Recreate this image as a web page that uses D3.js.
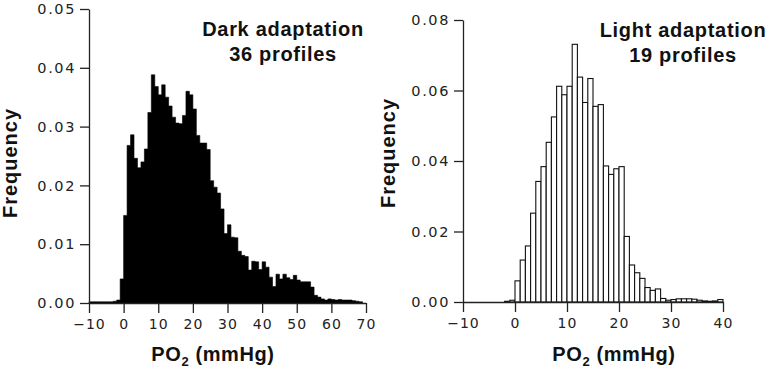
<!DOCTYPE html>
<html lang="en">
<head>
    <meta charset="UTF-8">
    <title>PO2 histograms</title>
    <script src="https://d3js.org/d3.v7.js"></script>
    <style>
        body { margin: 0; background: #fff; }
        .tick text { font-family: "DejaVu Sans", sans-serif; fill: #222; }
        .title { font-family: "Liberation Sans", Arial, sans-serif; font-weight: bold; fill: #111; }
    </style>
</head>
<body>
<svg></svg>
<script>
    // Dark adaptation: frequency per 1 mmHg bin, first bin starts at -10
    let darkStart = -10;
    let darkFreq = [
        0.0002, 0.0002, 0.0002, 0.0002, 0.0002, 0.0002, 0.0002, 0.0003, 0.0005, 0.0041,
        0.0149, 0.0268, 0.0286, 0.0246, 0.0230, 0.0240, 0.0262, 0.0324, 0.0388, 0.0368,
        0.0354, 0.0371, 0.0350, 0.0335, 0.0316, 0.0306, 0.0305, 0.0319, 0.0360, 0.0354,
        0.0330, 0.0285, 0.0272, 0.0272, 0.0261, 0.0208, 0.0197, 0.0187, 0.0160, 0.0118,
        0.0133, 0.0112, 0.0111, 0.0088, 0.0081, 0.0079, 0.0056, 0.0071, 0.0070, 0.0057,
        0.0070, 0.0061, 0.0044, 0.0028, 0.0049, 0.0041, 0.0049, 0.0043, 0.0040, 0.0047,
        0.0039, 0.0036, 0.0036, 0.0036, 0.0027, 0.0013, 0.0010, 0.0007, 0.0005, 0.0007,
        0.0006, 0.0005, 0.0006, 0.0005, 0.0005, 0.0005, 0.0004, 0.0003, 0.0002
    ];
    let darkXTicks = [-10, 0, 10, 20, 30, 40, 50, 60, 70];
    let darkYTicks = [0, 0.01, 0.02, 0.03, 0.04, 0.05];

    // Light adaptation: frequency per 1 mmHg bin, first bin starts at -10
    let lightStart = -10;
    let lightFreq = [
        0, 0, 0, 0, 0, 0, 0, 0, 0.0002, 0.0005,
        0.0060, 0.0119, 0.0159, 0.0252, 0.0342, 0.0384, 0.0453, 0.0525, 0.0612, 0.0588,
        0.0612, 0.0731, 0.0638, 0.0566, 0.0634, 0.0555, 0.0560, 0.0386, 0.0362, 0.0378,
        0.0384, 0.0186, 0.0105, 0.0083, 0.0067, 0.0041, 0.0033, 0.0037, 0.0010, 0.0005,
        0.0007, 0.0009, 0.0009, 0.0009, 0.0008, 0.0005, 0.0003, 0.0002, 0.0003, 0.0007
    ];
    let lightXTicks = [-10, 0, 10, 20, 30, 40];
    let lightYTicks = [0, 0.02, 0.04, 0.06, 0.08];

    let width = 768;
    let height = 374;

    let svg = d3.select("svg")
        .attr("width", width)
        .attr("height", height);

    function toBins(start, freq) {
        return freq.map((f, i) => ({x0: start + i, x1: start + i + 1, f: f}));
    }

    function panel(opts) {
        let x = d3.scaleLinear().domain(opts.xDomain).range(opts.xRange);
        let y = d3.scaleLinear().domain(opts.yDomain).range(opts.yRange);
        let g = svg.append("g");
        let bins = toBins(opts.start, opts.freq);

        if (opts.solid) {
            // filled staircase, no seams between neighbouring bins
            let pts = bins.map(d => [d.x0, d.f]);
            pts.push([bins[bins.length - 1].x1, bins[bins.length - 1].f]);
            let area = d3.area()
                .x(d => x(d[0]))
                .y0(y(0))
                .y1(d => y(d[1]))
                .curve(d3.curveStepAfter);
            g.append("path")
                .datum(pts)
                .attr("d", area)
                .style("fill", "#000")
                .style("stroke", "#000")
                .style("stroke-width", 0.6);
        } else {
            g.selectAll("rect.bar")
                .data(bins.filter(d => d.f > 0))
                .enter()
                .append("rect")
                .attr("class", "bar")
                .attr("x", d => x(d.x0))
                .attr("width", d => x(d.x1) - x(d.x0))
                .attr("y", d => y(d.f))
                .attr("height", d => y(0) - y(d.f))
                .style("fill", "#fff")
                .style("stroke", "#111")
                .style("stroke-width", 1.1);
        }

        let xAxis = g.append("g")
            .attr("transform", "translate(0," + y(0) + ")")
            .call(d3.axisBottom(x).tickValues(opts.xTicks).tickSize(10).tickSizeOuter(0).tickPadding(6));
        xAxis.selectAll("text").style("font-size", "14px").style("letter-spacing", "1px");

        let yAxis = g.append("g")
            .attr("transform", "translate(" + x(opts.xDomain[0]) + ",0)")
            .call(d3.axisLeft(y).tickValues(opts.yTicks).tickFormat(d3.format(".2f"))
                .tickSize(9).tickSizeOuter(0).tickPadding(4));
        yAxis.selectAll("text").style("font-size", "14.5px").style("letter-spacing", "1.6px");

        g.selectAll(".domain, .tick line").style("stroke", "#222").style("stroke-width", 1.3);

        // y axis title
        g.append("text")
            .attr("class", "title")
            .attr("transform", "translate(" + opts.yTitleX + "," + opts.yTitleY + ") rotate(-90)")
            .style("text-anchor", "middle")
            .style("font-size", "20px")
            .style("letter-spacing", "1px")
            .text("Frequency");

        // x axis title with subscript
        let xt = g.append("text")
            .attr("class", "title")
            .attr("x", opts.xTitleX)
            .attr("y", 361)
            .style("text-anchor", "middle")
            .style("font-size", "20px")
            .style("letter-spacing", "0.6px");
        xt.append("tspan").text("PO");
        xt.append("tspan").attr("dy", 5).style("font-size", "13px").text("2");
        xt.append("tspan").attr("dy", -5).text(" (mmHg)");

        // panel heading
        opts.heading.forEach((line, i) => {
            g.append("text")
                .attr("class", "title")
                .attr("x", opts.headX)
                .attr("y", opts.headY + i * 25)
                .style("text-anchor", "middle")
                .style("font-size", "20px")
                .style("letter-spacing", "0.7px")
                .text(line);
        });
    }

    panel({
        start: darkStart, freq: darkFreq, solid: true,
        xDomain: [-10, 70], xRange: [89, 366],
        yDomain: [0, 0.05], yRange: [303, 9],
        xTicks: darkXTicks, yTicks: darkYTicks,
        yTitleX: 17, yTitleY: 163,
        xTitleX: 213,
        heading: ["Dark adaptation", "36 profiles"], headX: 283, headY: 36
    });

    panel({
        start: lightStart, freq: lightFreq, solid: false,
        xDomain: [-10, 40], xRange: [463, 723],
        yDomain: [0, 0.08], yRange: [302, 20],
        xTicks: lightXTicks, yTicks: lightYTicks,
        yTitleX: 395, yTitleY: 153,
        xTitleX: 614,
        heading: ["Light adaptation", "19 profiles"], headX: 683, headY: 37
    });
</script>
</body>
</html>
